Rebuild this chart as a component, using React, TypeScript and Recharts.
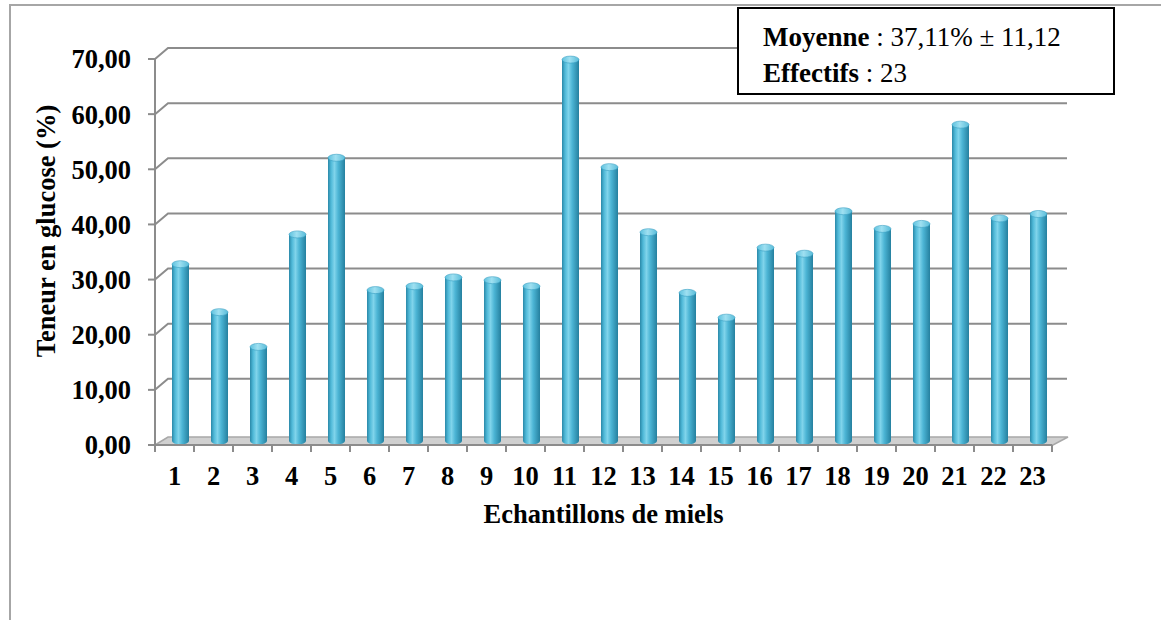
import { BarChart, Bar, XAxis, YAxis, CartesianGrid } from 'recharts';

const samples = ['1', '2', '3', '4', '5', '6', '7', '8', '9', '10', '11', '12', '13', '14', '15', '16', '17', '18', '19', '20', '21', '22', '23'];
const glucose = [32.7, 24.0, 17.7, 38.1, 52.0, 28.0, 28.7, 30.3, 29.8, 28.7, 69.8, 50.3, 38.5, 27.5, 23.0, 35.7, 34.6, 42.3, 39.1, 40.0, 58.0, 41.0, 41.8];
const yTicks = [0, 10, 20, 30, 40, 50, 60, 70];

const data = samples.map((s, i) => ({ sample: s, glucose: glucose[i] }));

const FONT = '"Liberation Serif", "Times New Roman", serif';
const AXIS = '#8c8c8c';
const FS = 26.5;
// décalage de la paroi du fond (pseudo 3D)
const DEPTH_X = 13;
const DEPTH_Y = -11;

const fmt = (v: number) => v.toFixed(2).replace('.', ',');

function WallLine(p: any) {
  const { x1, x2, y1, index } = p;
  const bottom = p.y != null && p.height != null ? p.y + p.height : null;
  const isFloor = bottom != null ? Math.abs(y1 - bottom) < 1 : index === 0;
  if (isFloor) {
    return (
      <polygon
        key={p.key}
        points={`${x1},${y1} ${x1 + DEPTH_X},${y1 - 8} ${x2 + 16},${y1 - 8} ${x2 + 1},${y1}`}
        fill="#d0d0d0"
        stroke="#a8a8a8"
        strokeWidth={1.5}
      />
    );
  }
  return (
    <path
      key={p.key}
      d={`M${x1},${y1} L${x1 + DEPTH_X},${y1 + DEPTH_Y} L${x2 + 15},${y1 + DEPTH_Y}`}
      stroke={AXIS}
      strokeWidth={2}
      fill="none"
    />
  );
}

function CylinderBar(p: any) {
  const { x, y, width, height } = p;
  if (!height || height <= 0) return null;
  const left = x + 6;
  const top = y - 4;
  const bottom = y + height - 4;
  const rx = width / 2;
  const ry = 3.5;
  return (
    <g>
      <path
        d={`M${left},${top + ry} V${bottom} A${rx},${ry} 0 0 0 ${left + width},${bottom} V${top + ry} Z`}
        fill="url(#cyl)"
      />
      <ellipse cx={left + rx} cy={top + ry} rx={rx} ry={ry} fill="url(#cap)" stroke="#3a9fc2" strokeWidth={0.6} />
    </g>
  );
}

function SampleTick(p: any) {
  const { x, y, payload, index, width, visibleTicksCount } = p;
  const half = payload?.offset || (width && visibleTicksCount ? width / visibleTicksCount / 2 : 19.5);
  const last = visibleTicksCount != null && index === visibleTicksCount - 1;
  return (
    <g>
      <line x1={x - half} y1={y} x2={x - half} y2={y + 7} stroke={AXIS} strokeWidth={2} />
      {last && <line x1={x + half} y1={y} x2={x + half} y2={y + 7} stroke={AXIS} strokeWidth={2} />}
      <text x={x} y={y + 40} textAnchor="middle" fontFamily={FONT} fontWeight="bold" fontSize={FS} fill="#000">
        {payload.value}
      </text>
    </g>
  );
}

export default function App() {
  return (
    <div style={{ position: 'absolute', left: 0, top: 0, width: 1161, height: 620, background: '#fff', overflow: 'hidden' }}>
      <div
        style={{
          position: 'absolute',
          left: 9,
          top: 4,
          right: 0,
          bottom: 0,
          borderLeft: '2px solid #a6a6a6',
          borderTop: '2px solid #a6a6a6',
        }}
      />
      <div style={{ position: 'absolute', left: 0, top: 0 }}>
        <BarChart width={1161} height={620} data={data} margin={{ top: 59, right: 109, bottom: 125, left: 0 }} barSize={17}>
          <defs>
            <linearGradient id="cyl" x1="0" y1="0" x2="1" y2="0">
              <stop offset="0%" stopColor="#2a88a8" />
              <stop offset="18%" stopColor="#4fb9d8" />
              <stop offset="38%" stopColor="#80d4eb" />
              <stop offset="60%" stopColor="#4cb5d5" />
              <stop offset="100%" stopColor="#25809f" />
            </linearGradient>
            <linearGradient id="cap" x1="0" y1="0" x2="1" y2="0">
              <stop offset="0%" stopColor="#5cc1de" />
              <stop offset="45%" stopColor="#9fe0f1" />
              <stop offset="100%" stopColor="#58bcd9" />
            </linearGradient>
          </defs>
          <CartesianGrid vertical={false} horizontal={WallLine} />
          <XAxis
            dataKey="sample"
            interval={0}
            tickLine={false}
            tickSize={0}
            tickMargin={0}
            axisLine={{ stroke: AXIS, strokeWidth: 2 }}
            height={50}
            tick={<SampleTick />}
            label={{
              content: (lp: any) => {
                const vb = lp.viewBox || { x: 155, y: 445, width: 897 };
                return (
                  <text x={vb.x + vb.width / 2} y={vb.y + 78} textAnchor="middle" fontFamily={FONT} fontWeight="bold" fontSize={FS} fill="#000">
                    Echantillons de miels
                  </text>
                );
              },
            }}
          />
          <YAxis
            width={155}
            domain={[0, 70]}
            ticks={yTicks}
            interval={0}
            tickFormatter={fmt}
            tickSize={7}
            tickMargin={17}
            tickLine={{ stroke: AXIS, strokeWidth: 2 }}
            axisLine={{ stroke: AXIS, strokeWidth: 2 }}
            tick={{ fill: '#000', fontSize: FS, fontWeight: 'bold', fontFamily: FONT }}
            label={{
              content: (lp: any) => {
                const vb = lp.viewBox || { x: 0, y: 59, height: 386 };
                const cx = vb.x + 46;
                const cy = vb.y + 172;
                return (
                  <text
                    x={cx}
                    y={cy}
                    transform={`rotate(-90, ${cx}, ${cy})`}
                    textAnchor="middle"
                    dominantBaseline="central"
                    fontFamily={FONT}
                    fontWeight="bold"
                    fontSize={FS}
                    fill="#000"
                  >
                    Teneur en glucose (%)
                  </text>
                );
              },
            }}
          />
          <Bar dataKey="glucose" shape={<CylinderBar />} isAnimationActive={false} />
        </BarChart>
      </div>
      <div
        style={{
          position: 'absolute',
          left: 737,
          top: 7,
          width: 378,
          height: 88,
          border: '2px solid #000',
          background: '#fff',
          fontFamily: FONT,
          fontSize: 27,
          lineHeight: '36px',
          color: '#000',
          padding: '10px 0 0 24px',
          boxSizing: 'border-box',
        }}
      >
        <div>
          <b>Moyenne</b> : 37,11% ± 11,12
        </div>
        <div>
          <b>Effectifs</b> : 23
        </div>
      </div>
    </div>
  );
}
